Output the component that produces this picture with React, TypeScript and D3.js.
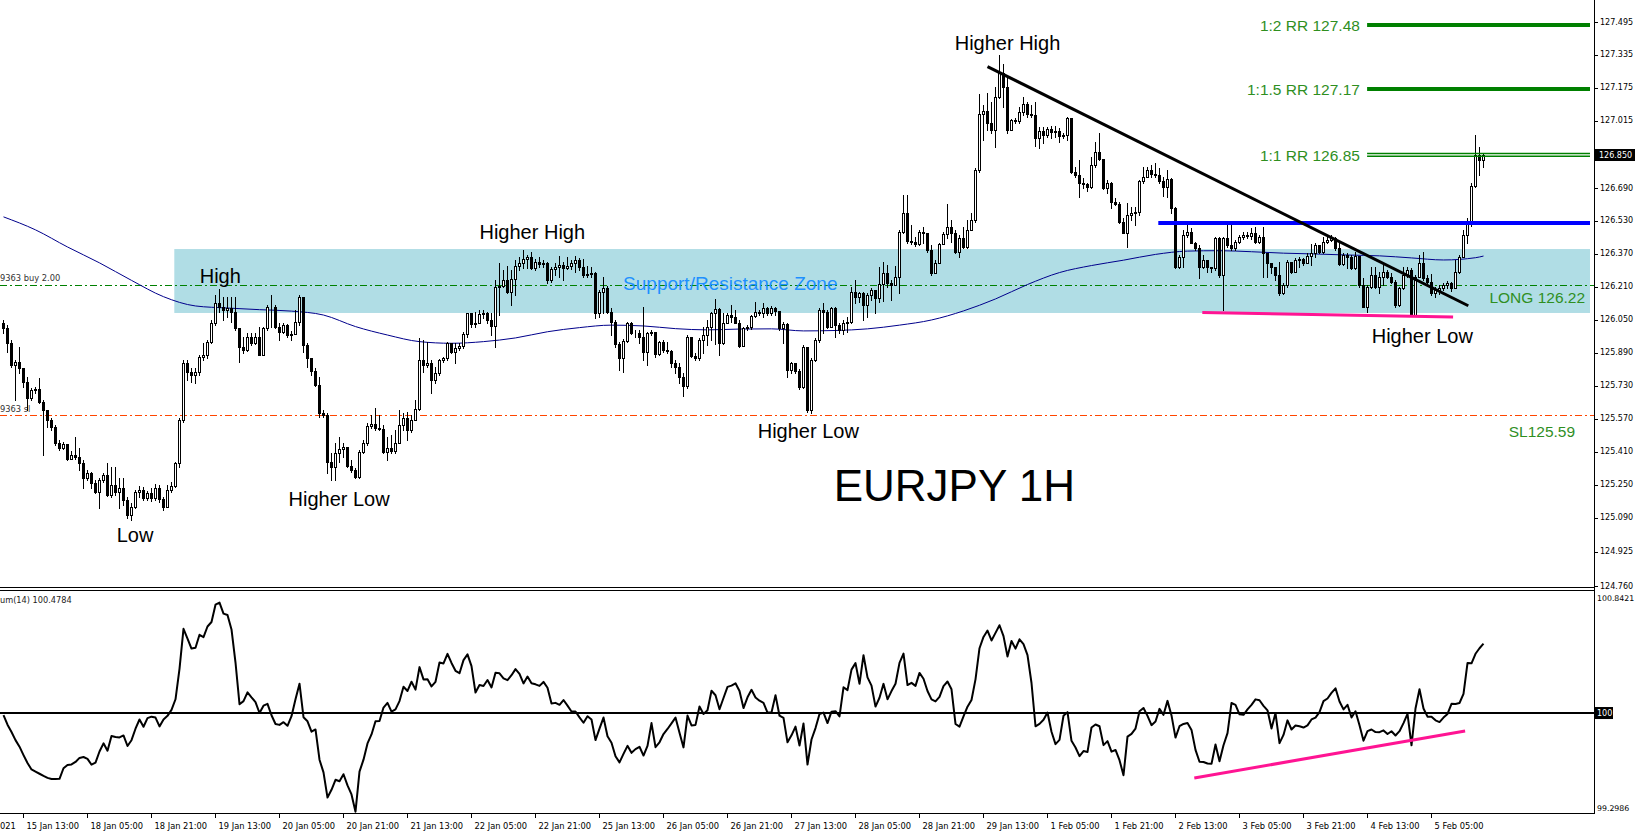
import React from 'react';
import * as d3 from 'd3';

// ---------- DATA (EURJPY H1) ----------
const FIRST_OPEN = 126.034;
const CLOSES = [
126.010,125.937,125.832,125.848,125.816,125.751,125.670,125.710,125.714,125.654,
125.613,125.565,125.533,125.452,125.428,125.449,125.374,125.394,125.384,125.355,
125.282,125.306,125.258,125.217,125.274,125.298,125.201,125.250,125.217,125.234,
125.177,125.104,125.145,125.217,125.225,125.185,125.213,125.185,125.234,125.180,
125.145,125.225,125.245,125.355,125.565,125.843,125.799,125.783,125.799,125.872,
125.880,125.945,126.034,126.131,126.115,126.098,126.107,126.090,126.010,125.921,
125.904,125.966,125.937,125.969,125.880,126.010,126.115,126.111,126.018,125.993,
126.026,125.977,125.982,126.042,126.163,125.929,125.864,125.804,125.735,125.597,
125.590,125.363,125.339,125.403,125.423,125.436,125.342,125.322,125.290,125.411,
125.452,125.536,125.546,125.525,125.520,125.411,125.428,125.416,125.455,125.541,
125.573,125.516,125.565,125.617,125.856,125.832,125.843,125.759,125.795,125.856,
125.864,125.937,125.896,125.913,125.924,125.982,126.082,126.031,126.037,126.079,
126.082,126.050,126.021,126.212,126.215,126.244,126.186,126.247,126.312,126.328,
126.344,126.354,126.301,126.333,126.322,126.325,126.244,126.296,126.305,126.317,
126.301,126.312,126.325,126.341,126.305,126.268,126.273,126.276,126.082,126.187,
126.204,126.090,126.042,125.934,125.864,125.950,126.034,125.988,125.985,125.969,
125.896,125.985,125.993,125.885,125.945,125.904,125.901,125.843,125.824,125.775,
125.730,125.966,125.875,125.864,125.953,125.977,126.018,126.082,126.102,125.937,
126.034,126.074,126.066,126.037,125.924,126.010,126.014,126.069,126.090,126.086,
126.107,126.086,126.107,126.095,126.010,126.031,125.807,125.840,125.804,125.723,
125.921,125.613,125.856,125.953,126.098,126.090,126.018,126.107,126.026,126.001,
126.034,126.042,126.187,126.163,126.179,126.123,126.171,126.195,126.155,126.225,
126.276,126.228,126.220,126.260,126.478,126.567,126.435,126.430,126.419,126.478,
126.474,126.390,126.276,126.328,126.419,126.467,126.499,126.470,126.381,126.446,
126.406,126.486,126.535,126.777,127.049,127.065,127.007,126.971,127.130,127.246,
127.182,126.971,127.020,127.017,127.060,127.098,127.049,127.044,126.931,126.968,
126.947,126.975,126.963,126.968,126.942,126.947,127.028,126.769,126.753,126.713,
126.710,126.697,126.802,126.866,126.829,126.689,126.713,126.624,126.613,126.527,
126.474,126.559,126.567,126.575,126.726,126.742,126.777,126.758,126.753,126.726,
126.697,126.732,126.592,126.309,126.357,126.462,126.478,126.425,126.398,126.309,
126.341,126.309,126.301,126.446,126.268,126.446,126.414,126.398,126.430,126.451,
126.462,126.457,126.470,126.430,126.454,126.373,126.325,126.309,126.268,126.179,
126.220,126.333,126.284,126.341,126.344,126.328,126.360,126.373,126.414,126.381,
126.430,126.438,126.446,126.398,126.322,126.365,126.357,126.301,126.360,126.220,
126.115,126.212,126.268,126.212,126.260,126.284,126.260,126.236,126.123,126.204,
126.268,126.293,126.074,126.260,126.325,126.252,126.236,126.179,126.195,126.204,
126.220,126.228,126.204,126.284,126.357,126.462,126.516,126.700,126.850,126.826,126.850
];
const HIGHS = [
126.050,126.026,125.953,125.856,125.921,125.791,125.775,125.719,125.723,125.767,
125.662,125.601,125.573,125.541,125.468,125.460,125.444,125.416,125.484,125.428,
125.371,125.323,125.314,125.274,125.282,125.310,125.355,125.339,125.339,125.282,
125.282,125.193,125.161,125.225,125.245,125.242,125.222,125.234,125.255,125.250,
125.193,125.250,125.266,125.363,125.573,125.856,125.856,125.816,125.816,125.880,
125.937,125.953,126.050,126.171,126.199,126.163,126.163,126.160,126.163,126.010,
125.969,125.988,125.985,125.985,126.018,126.018,126.123,126.171,126.123,126.034,
126.034,126.031,125.998,126.098,126.171,126.163,125.937,125.864,125.816,125.775,
125.613,125.597,125.403,125.452,125.484,125.452,125.436,125.371,125.331,125.420,
125.468,125.549,125.589,125.622,125.589,125.541,125.484,125.492,125.516,125.613,
125.597,125.605,125.589,125.662,125.961,125.953,125.945,125.856,125.824,125.859,
125.872,125.945,125.940,125.937,125.937,125.993,126.086,126.082,126.090,126.098,
126.098,126.090,126.082,126.244,126.325,126.293,126.312,126.293,126.341,126.357,
126.389,126.365,126.381,126.344,126.357,126.341,126.333,126.309,126.325,126.360,
126.333,126.357,126.341,126.360,126.349,126.344,126.312,126.305,126.284,126.195,
126.260,126.215,126.107,126.050,125.945,125.956,126.042,126.042,126.001,126.001,
126.115,125.993,126.001,125.993,125.950,125.953,125.945,125.904,125.856,125.840,
125.791,125.977,125.969,125.888,125.961,126.018,126.050,126.090,126.150,126.107,
126.082,126.082,126.123,126.098,126.050,126.018,126.026,126.074,126.139,126.098,
126.131,126.115,126.118,126.115,126.095,126.042,126.034,125.848,125.843,125.811,
125.929,125.921,125.864,125.961,126.107,126.131,126.098,126.115,126.115,126.034,
126.050,126.066,126.212,126.244,126.187,126.187,126.179,126.204,126.195,126.305,
126.333,126.317,126.244,126.312,126.486,126.656,126.656,126.511,126.454,126.486,
126.503,126.454,126.414,126.341,126.422,126.478,126.613,126.535,126.486,126.462,
126.503,126.535,126.567,126.786,127.146,127.093,127.149,127.109,127.182,127.335,
127.292,127.227,127.023,127.028,127.085,127.130,127.109,127.093,127.109,126.984,
126.988,126.988,126.991,126.991,126.980,126.955,127.036,127.028,126.794,126.826,
126.737,126.713,126.842,126.915,126.955,126.826,126.729,126.721,126.640,126.624,
126.543,126.616,126.600,126.600,126.729,126.790,126.794,126.802,126.813,126.786,
126.745,126.778,126.737,126.600,126.365,126.486,126.511,126.495,126.430,126.414,
126.365,126.333,126.309,126.454,126.454,126.454,126.514,126.514,126.438,126.462,
126.478,126.478,126.495,126.503,126.462,126.503,126.377,126.328,126.309,126.333,
126.228,126.341,126.317,126.349,126.357,126.349,126.373,126.419,126.425,126.390,
126.451,126.454,126.462,126.454,126.422,126.377,126.373,126.365,126.381,126.360,
126.252,126.220,126.309,126.309,126.284,126.325,126.293,126.276,126.244,126.212,
126.309,126.309,126.301,126.268,126.365,126.381,126.268,126.273,126.212,126.220,
126.231,126.241,126.236,126.341,126.365,126.486,126.543,126.713,126.947,126.891,126.862
];
const LOWS = [
125.985,125.896,125.824,125.662,125.791,125.727,125.614,125.662,125.694,125.646,
125.395,125.533,125.516,125.444,125.420,125.423,125.371,125.377,125.377,125.323,
125.234,125.274,125.234,125.209,125.137,125.266,125.196,125.193,125.201,125.137,
125.153,125.088,125.080,125.137,125.193,125.177,125.177,125.174,125.177,125.169,
125.129,125.141,125.217,125.238,125.339,125.557,125.759,125.751,125.743,125.783,
125.856,125.864,125.937,126.026,126.090,126.050,126.066,126.042,126.001,125.848,
125.888,125.901,125.929,125.934,125.880,125.896,126.001,126.018,126.010,125.953,
125.985,125.969,125.953,125.982,126.026,125.896,125.824,125.783,125.730,125.581,
125.581,125.306,125.274,125.274,125.363,125.387,125.339,125.314,125.282,125.282,
125.403,125.444,125.525,125.516,125.516,125.403,125.371,125.403,125.403,125.452,
125.516,125.468,125.508,125.565,125.613,125.799,125.824,125.694,125.743,125.783,
125.848,125.856,125.888,125.843,125.904,125.913,125.969,126.018,126.018,126.034,
126.058,126.034,125.977,125.921,126.074,126.212,126.179,126.123,126.171,126.293,
126.301,126.301,126.296,126.293,126.309,126.305,126.228,126.236,126.268,126.260,
126.244,126.296,126.296,126.284,126.293,126.260,126.260,126.260,126.058,126.066,
126.086,126.082,125.977,125.921,125.807,125.799,125.945,125.982,125.969,125.937,
125.856,125.832,125.977,125.872,125.880,125.896,125.888,125.824,125.791,125.743,
125.681,125.719,125.869,125.856,125.856,125.888,125.929,125.953,125.934,125.880,
125.934,126.034,126.042,126.034,125.921,125.929,126.001,126.005,126.066,126.074,
126.066,126.074,126.074,126.074,126.001,125.937,125.775,125.791,125.791,125.714,
125.719,125.605,125.597,125.853,125.945,125.985,126.010,126.014,125.969,125.985,
125.982,125.993,126.034,126.131,126.139,126.050,126.066,126.147,126.082,126.139,
126.144,126.212,126.147,126.244,126.179,126.470,126.422,126.419,126.409,126.414,
126.422,126.381,126.268,126.276,126.328,126.419,126.446,126.430,126.373,126.357,
126.398,126.398,126.503,126.527,126.769,126.923,126.971,126.955,126.887,127.125,
127.085,126.955,126.971,127.007,127.004,127.044,127.036,127.036,126.894,126.883,
126.907,126.939,126.931,126.939,126.915,126.931,126.923,126.761,126.745,126.648,
126.689,126.677,126.689,126.794,126.826,126.684,126.664,126.592,126.608,126.519,
126.470,126.402,126.535,126.511,126.559,126.716,126.761,126.745,126.745,126.713,
126.651,126.648,126.567,126.301,126.301,126.309,126.454,126.422,126.390,126.252,
126.301,126.284,126.284,126.293,126.260,126.098,126.406,126.390,126.390,126.425,
126.441,126.446,126.441,126.425,126.425,126.260,126.260,126.276,126.244,126.171,
126.176,126.212,126.276,126.284,126.309,126.317,126.325,126.317,126.357,126.373,
126.377,126.425,126.435,126.390,126.317,126.317,126.301,126.296,126.296,126.212,
126.111,126.090,126.204,126.204,126.179,126.220,126.252,126.228,126.115,126.118,
126.199,126.260,126.069,126.187,126.257,126.244,126.228,126.171,126.160,126.176,
126.195,126.204,126.192,126.225,126.280,126.354,126.425,126.506,126.697,126.753,126.794
];

// Momentum(14) values of the first 14 bars (earlier closes are off-screen)
const MOM_FIRST = [99.986,99.918,99.867,99.810,99.764,99.705,99.649,99.604,99.589,99.574,99.559,99.545,99.537,99.537];
const MOM_PERIOD = 14;

// Moving average read at these bars
const MA_BARS = [0,8,16,24,32,40,48,56,64,72,80,88,96,104,112,120,128,136,144,152,160,168,176,184,192,200,208,216,224,232,240,248,256,264,272,280,288,296,304,312,320,328,336,344,352,360,368,370];
const MA_VALUES = [126.550,126.487,126.404,126.327,126.242,126.163,126.118,126.108,126.100,126.093,126.074,126.018,125.977,125.945,125.937,125.945,125.963,125.993,126.013,126.025,126.021,126.008,126.002,126.006,126.007,125.997,125.999,126.007,126.025,126.050,126.094,126.152,126.222,126.280,126.314,126.340,126.368,126.384,126.386,126.381,126.374,126.370,126.365,126.361,126.351,126.341,126.352,126.360];

const PRICE_TICKS = [127.495,127.335,127.175,127.015,126.690,126.530,126.370,126.210,126.050,125.890,125.730,125.570,125.410,125.250,125.090,124.925,124.760];
const CURRENT_PRICE = 126.850;
const MOM_MAX = 100.8421;
const MOM_MIN = 99.2986;
const MOM_LEVEL = 100;
const MOM_LABEL = 'um(14) 100.4784';

const TIME_LABELS = ['021','15 Jan 13:00','18 Jan 05:00','18 Jan 21:00','19 Jan 13:00','20 Jan 05:00','20 Jan 21:00','21 Jan 13:00','22 Jan 05:00','22 Jan 21:00','25 Jan 13:00','26 Jan 05:00','26 Jan 21:00','27 Jan 13:00','28 Jan 05:00','28 Jan 21:00','29 Jan 13:00','1 Feb 05:00','1 Feb 21:00','2 Feb 13:00','3 Feb 05:00','3 Feb 21:00','4 Feb 13:00','5 Feb 05:00'];
const TIME_FIRST_BAR = -11;
const TIME_STEP = 16;

// Trade levels
const ENTRY = 126.22;
const STOP = 125.59;
const ORDER_TEXT = '9363 buy 2.00';
const SL_TEXT = '9363 sl';
const TARGETS = [127.48, 127.17, 126.85];
const TARGET_NAMES = ['1:2 RR 127.48', '1:1.5 RR 127.17', '1:1 RR 126.85'];
const RESISTANCE = 126.52;
const ZONE_TOP = 126.394;
const ZONE_BOTTOM = 126.084;
const ZONE_START_BAR = 42.7;

// Drawn objects [bar, value]
const TRENDLINE = [[246.0, 127.279], [366.2, 126.119]];
const SUPPORT_LINE = [[299.7, 126.086], [362.4, 126.065]];
const MOM_LINE = [[297.7, 99.544], [365.4, 99.874]];

// Chart text objects [text, bar, price]
const NOTES: [string, number, number][] = [
  ['High', 54.2, 126.263],
  ['Higher High', 132.2, 126.477],
  ['Higher High', 251.0, 127.393],
  ['Low', 32.9, 125.007],
  ['Higher Low', 83.9, 125.182],
  ['Higher Low', 201.2, 125.512],
  ['Higher Low', 354.7, 125.972],
];

export default function App() {
  const W = 1635, H = 836;
  const RIGHT = 1594;
  const MAIN_BOTTOM = 587;
  const SUB_TOP = 590;
  const SUB_BOTTOM = 813;
  const font = "'Liberation Sans', Arial, sans-serif";
  const axFont = "'DejaVu Sans', Verdana, sans-serif";

  const x = d3.scaleLinear().domain([0, 1]).range([3.5, 7.5]);
  const y = d3.scaleLinear().domain([124.760, 127.495]).range([586, 22]);
  const ym = d3.scaleLinear().domain([MOM_MIN, MOM_MAX]).range([813, 593]);

  const opens = CLOSES.map((c, i) => (i === 0 ? FIRST_OPEN : CLOSES[i - 1]));
  const mom = CLOSES.map((c, i) => (i < MOM_PERIOD ? MOM_FIRST[i] : (100 * c) / CLOSES[i - MOM_PERIOD]));

  const momPath = d3.line<number>().x((_, i) => x(i)).y((v) => ym(v))(mom) || '';
  const maPath = d3.line<number>().x((_, i) => x(MA_BARS[i])).y((v) => y(v)).curve(d3.curveMonotoneX)(MA_VALUES) || '';

  const rp = (v: number) => Math.round(v) + 0.5;
  const green = '#008000';
  const textGreen = '#2f8f1f';
  const dashDot = '7,3,2,3';
  const xRightEdge = 1590;

  return (
    <svg width={W} height={H} style={{ position: 'absolute', left: 0, top: 0, background: '#fff' }}>
      <defs>
        <clipPath id="mainClip"><rect x={0} y={0} width={RIGHT} height={MAIN_BOTTOM} /></clipPath>
        <clipPath id="subClip"><rect x={0} y={SUB_TOP + 1} width={RIGHT} height={SUB_BOTTOM - SUB_TOP - 1} /></clipPath>
      </defs>
      <rect x={0} y={0} width={W} height={H} fill="#fff" />

      <g clipPath="url(#mainClip)">
        {/* zone */}
        <rect x={x(ZONE_START_BAR)} y={y(ZONE_TOP)} width={xRightEdge - x(ZONE_START_BAR)} height={y(ZONE_BOTTOM) - y(ZONE_TOP)} fill="#b0dde5" />
        {/* entry / stop lines */}
        <line x1={0} x2={RIGHT} y1={rp(y(ENTRY))} y2={rp(y(ENTRY))} stroke={green} strokeDasharray={dashDot} />
        <line x1={0} x2={RIGHT} y1={rp(y(STOP))} y2={rp(y(STOP))} stroke="#ff4500" strokeDasharray={dashDot} />
        <text x={0} y={y(ENTRY) - 7} fontFamily={axFont} fontSize={8.3} fill="#333" dominantBaseline="central">{ORDER_TEXT}</text>
        <text x={0} y={y(STOP) - 6} fontFamily={axFont} fontSize={8.3} fill="#333" dominantBaseline="central">{SL_TEXT}</text>
        {/* MA */}
        <path d={maPath} fill="none" stroke="#00008b" strokeWidth={1} />
        {/* candles */}
        <g shapeRendering="crispEdges">
          {CLOSES.map((c, i) => {
            const o = opens[i];
            const h = Math.max(HIGHS[i], o, c);
            const l = Math.min(LOWS[i], o, c);
            const cx = x(i);
            const top = Math.round(y(Math.max(o, c))) + 0.5;
            const bot = Math.round(y(Math.min(o, c))) + 0.5;
            const bull = c >= o;
            return (
              <g key={i}>
                <line x1={cx} x2={cx} y1={Math.round(y(h))} y2={Math.round(y(l)) + 1} stroke="#000" strokeWidth={1} />
                <rect x={cx - 1} y={top} width={2} height={Math.max(bot - top, 0)} fill={bull ? '#fff' : '#000'} stroke="#000" strokeWidth={1} />
              </g>
            );
          })}
        </g>
        {/* resistance line */}
        <line x1={x(288.7)} x2={xRightEdge} y1={y(RESISTANCE)} y2={y(RESISTANCE)} stroke="#0000ff" strokeWidth={4} />
        {/* targets */}
        <line x1={x(340.9)} x2={xRightEdge} y1={y(TARGETS[0])} y2={y(TARGETS[0])} stroke={green} strokeWidth={4} />
        <line x1={x(340.9)} x2={xRightEdge} y1={y(TARGETS[1])} y2={y(TARGETS[1])} stroke={green} strokeWidth={4} />
        <line x1={x(340.9)} x2={xRightEdge} y1={y(TARGETS[2]) - 1.5} y2={y(TARGETS[2]) - 1.5} stroke={green} strokeWidth={1.6} />
        <line x1={x(340.9)} x2={xRightEdge} y1={y(TARGETS[2]) + 1.3} y2={y(TARGETS[2]) + 1.3} stroke={green} strokeWidth={1.6} />
        {TARGET_NAMES.map((t, i) => (
          <text key={t} x={x(339.1)} y={y(TARGETS[i]) + 0.5} textAnchor="end" dominantBaseline="central" fontFamily={font} fontSize={15.5} fill={textGreen}>{t}</text>
        ))}
        {/* trendline */}
        <line x1={x(TRENDLINE[0][0])} y1={y(TRENDLINE[0][1])} x2={x(TRENDLINE[1][0])} y2={y(TRENDLINE[1][1])} stroke="#000" strokeWidth={3} />
        {/* support line */}
        <line x1={x(SUPPORT_LINE[0][0])} y1={y(SUPPORT_LINE[0][1])} x2={x(SUPPORT_LINE[1][0])} y2={y(SUPPORT_LINE[1][1])} stroke="#ff1493" strokeWidth={3} />

        {/* texts */}
        <text x={x(181.7)} y={y(126.229)} textAnchor="middle" dominantBaseline="central" fontFamily={font} fontSize={19} fill="#1e90ff">Support/Resistance Zone</text>
        <text x={x(395.4)} y={y(126.16)} textAnchor="end" dominantBaseline="central" fontFamily={font} fontSize={15.5} fill={textGreen}>{'LONG ' + ENTRY.toFixed(2)}</text>
        <text x={x(392.9)} y={y(125.508)} textAnchor="end" dominantBaseline="central" fontFamily={font} fontSize={15.5} fill={textGreen}>{'SL' + STOP.toFixed(2)}</text>
        {NOTES.map(([t, b, p], i) => (
          <text key={i} x={x(b)} y={y(p)} textAnchor="middle" dominantBaseline="central" fontFamily={font} fontSize={20} fill="#000">{t}</text>
        ))}
        <text x={x(237.7)} y={y(125.245)} textAnchor="middle" dominantBaseline="central" fontFamily={font} fontSize={44} fill="#000">EURJPY 1H</text>
      </g>

      {/* sub window */}
      <g clipPath="url(#subClip)">
        <line x1={0} x2={RIGHT} y1={ym(MOM_LEVEL)} y2={ym(MOM_LEVEL)} stroke="#000" strokeWidth={2} />
        <path d={momPath} fill="none" stroke="#000" strokeWidth={2} strokeLinejoin="round" />
        <line x1={x(MOM_LINE[0][0])} y1={ym(MOM_LINE[0][1])} x2={x(MOM_LINE[1][0])} y2={ym(MOM_LINE[1][1])} stroke="#ff1493" strokeWidth={3} />
        <text x={0} y={600} dominantBaseline="central" fontFamily={axFont} fontSize={8.2} fill="#222">{MOM_LABEL}</text>
      </g>

      {/* frames */}
      <g shapeRendering="crispEdges" stroke="#000">
        <line x1={0} x2={RIGHT} y1={MAIN_BOTTOM + 0.5} y2={MAIN_BOTTOM + 0.5} />
        <line x1={0} x2={RIGHT} y1={SUB_TOP + 0.5} y2={SUB_TOP + 0.5} />
        <line x1={0} x2={RIGHT + 1} y1={SUB_BOTTOM + 0.5} y2={SUB_BOTTOM + 0.5} />
        <line x1={RIGHT + 0.5} x2={RIGHT + 0.5} y1={0} y2={SUB_BOTTOM + 1} />
      </g>

      {/* price axis */}
      <g fontFamily={axFont} fontSize={8} fill="#000">
        {PRICE_TICKS.map((p) => (
          <g key={p}>
            <line x1={RIGHT} x2={RIGHT + 4} y1={rp(y(p))} y2={rp(y(p))} stroke="#000" shapeRendering="crispEdges" />
            <text x={RIGHT + 6} y={y(p)} dominantBaseline="central">{p.toFixed(3)}</text>
          </g>
        ))}
        <rect x={RIGHT + 1} y={y(CURRENT_PRICE) - 6} width={40} height={12} fill="#000" />
        <text x={RIGHT + 5} y={y(CURRENT_PRICE)} dominantBaseline="central" fill="#fff">{CURRENT_PRICE.toFixed(3)}</text>
        <text x={RIGHT + 3} y={ym(MOM_MAX) + 5} dominantBaseline="central" fontSize={7.8}>{MOM_MAX.toFixed(4)}</text>
        <text x={RIGHT + 3} y={ym(MOM_MIN) - 5} dominantBaseline="central" fontSize={7.8}>{MOM_MIN.toFixed(4)}</text>
        <rect x={RIGHT + 1} y={ym(MOM_LEVEL) - 6} width={18} height={12} fill="#000" />
        <text x={RIGHT + 3} y={ym(MOM_LEVEL)} dominantBaseline="central" fill="#fff">{String(MOM_LEVEL)}</text>
      </g>

      {/* time axis */}
      <g fontFamily={axFont} fontSize={8.3} fill="#000">
        {TIME_LABELS.map((t, m) => {
          const tx = x(TIME_FIRST_BAR + TIME_STEP * m);
          return (
            <g key={t}>
              {m > 0 && <line x1={tx} x2={tx} y1={SUB_BOTTOM + 1} y2={SUB_BOTTOM + 5} stroke="#000" shapeRendering="crispEdges" />}
              <text x={m === 0 ? 0 : tx + 3} y={826} dominantBaseline="central">{t}</text>
            </g>
          );
        })}
      </g>
    </svg>
  );
}
